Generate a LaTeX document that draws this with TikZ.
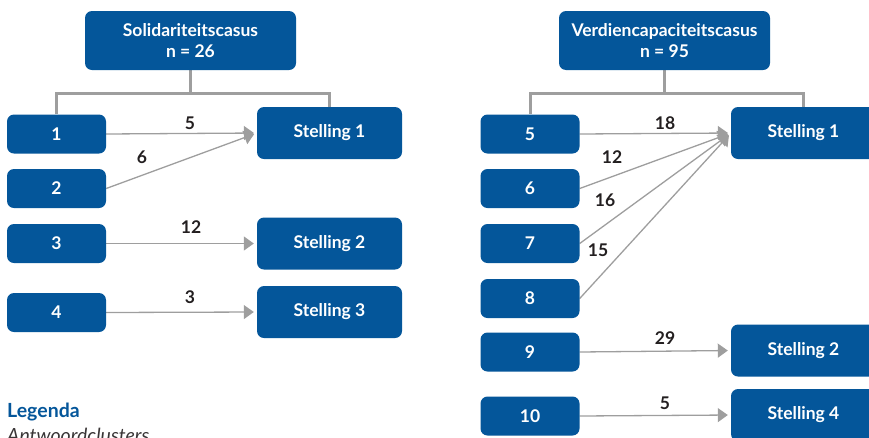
\documentclass[tikz,border=0pt]{standalone}
\usepackage{fontspec}
\setmainfont{Lato}
\usetikzlibrary{arrows.meta,backgrounds}
\definecolor{boxblue}{HTML}{04569A}
\definecolor{linegray}{HTML}{9E9E9E}
\definecolor{numtext}{HTML}{231F20}
\begin{document}
\begin{tikzpicture}[x=1pt,y=-1pt,
  box/.style={fill=boxblue, draw=none, rounded corners=7pt, text=white,
    font=\bfseries\fontsize{17.5}{21}\selectfont, align=center, inner sep=0pt},
  clus/.style={box, minimum width=99pt, minimum height=39pt},
  stel/.style={box, minimum width=145pt, minimum height=52pt},
  head/.style={box, minimum width=211pt, minimum height=59pt},
  tree/.style={draw=linegray, line width=3pt},
  arr/.style={draw=linegray, line width=1.3pt, shorten >=3pt,
    -{Triangle[length=10pt,width=14pt]}},
  num/.style={font=\bfseries\fontsize{17.5}{21}\selectfont, text=numtext, inner sep=0pt}]
\useasboundingbox (0,0) rectangle (869,437);

% ---------- left panel ----------
\node[head] (hL) at (190.5,40.5) {Solidariteitscasus\\n = 26};
\node[clus] (c1) at (56.5,134) {1};
\node[clus] (c2) at (56.5,188.5) {2};
\node[clus] (c3) at (56.5,243.5) {3};
\node[clus] (c4) at (56.5,312.5) {4};
\node[stel] (s1L) at (329.5,133) {Stelling 1};
\node[stel] (s2L) at (329.5,243.5) {Stelling 2};
\node[stel] (s3L) at (329.5,312) {Stelling 3};
\coordinate (jL) at (190.5,93);
\coordinate (tL) at (257,133);

% ---------- right panel ----------
\node[head] (hR) at (664.5,40.5) {Verdiencapaciteitscasus\\n = 95};
\node[clus] (c5) at (530,134) {5};
\node[clus] (c6) at (530,188.5) {6};
\node[clus] (c7) at (530,243.5) {7};
\node[clus] (c8) at (530,298.5) {8};
\node[clus] (c9) at (530,352) {9};
\node[clus] (c10) at (530,416) {10};
\node[stel] (s1R) at (803.5,133) {Stelling 1};
\node[stel] (s2R) at (803.5,350.5) {Stelling 2};
\node[stel] (s4R) at (803.5,415) {Stelling 4};
\coordinate (jR) at (664.5,93);
\coordinate (tR) at (731,133);

\begin{scope}[on background layer]
  \draw[tree] (hL.south) -- (jL);
  \draw[tree] (c1.north) |- (jL) -| (s1L.north);
  \draw[tree] (hR.south) -- (jR);
  \draw[tree] (c5.north) |- (jR) -| (s1R.north);

  \draw[arr] (c1.east) -- (tL);
  \draw[arr] (c2.east) -- (tL);
  \draw[arr] (c3.east) -- (s2L.west);
  \draw[arr] (c4.east) -- (s3L.west);

  \draw[arr] (c5.east) -- (tR);
  \draw[arr] (c6.east) -- (tR);
  \draw[arr] (c7.east) -- (tR);
  \draw[arr] (c8.east) -- (tR);
  \draw[arr] (c9.east) -- (s2R.west);
  \draw[arr] (c10.east) -- (s4R.west);
\end{scope}

% ---------- labels ----------
\node[num] (l1) at (190,123) {5};
\node[num] (l2) at (142,157) {6};
\node[num] (l3) at (191,227) {12};
\node[num] (l4) at (190,297) {3};
\node[num] (l5) at (665,123) {18};
\node[num] (l6) at (612,157) {12};
\node[num] (l7) at (605,200) {16};
\node[num] (l8) at (598,250) {15};
\node[num] (l9) at (665,338) {29};
\node[num] (l10) at (665,403) {5};

% ---------- legend ----------
\node[anchor=base west, inner sep=0pt, text=boxblue,
  font=\bfseries\fontsize{19.5}{23}\selectfont] (leg) at (7,417) {Legenda};
\node[anchor=base west, inner sep=0pt, text=numtext!90,
  font=\itshape\fontsize{19.5}{23}\selectfont] (ant) at (7,442) {Antwoordclusters};
\end{tikzpicture}
\end{document}
